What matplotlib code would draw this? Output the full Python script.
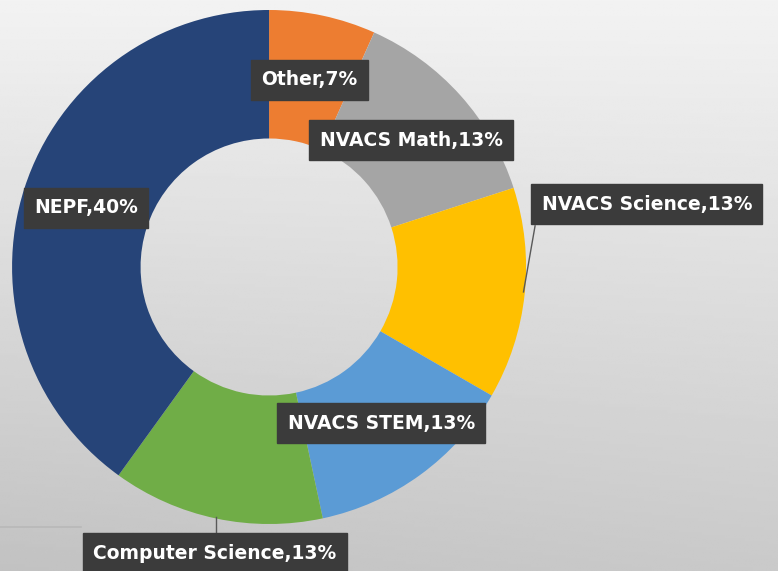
import numpy as np
import matplotlib
matplotlib.use("Agg")
import matplotlib.pyplot as plt

# data
categories = ["Other", "NVACS Math", "NVACS Science", "NVACS STEM", "Computer Science", "NEPF"]
shares = [6.7, 13.3, 13.3, 13.3, 13.3, 40.0]
pct_labels = ["7%", "13%", "13%", "13%", "13%", "40%"]
colors = ["#ED7D31", "#A5A5A5", "#FFC000", "#5B9BD5", "#70AD47", "#264478"]

# label box centres in pie data units (radius 1)
label_pos = [(0.156, 0.728), (0.553, 0.494), (1.47, 0.245),
             (0.436, -0.607), (-0.21, -1.113), (-0.712, 0.23)]

plt.rcParams['font.family'] = ['Liberation Sans Narrow', 'DejaVu Sans']

fig = plt.figure(figsize=(7.78, 5.71), dpi=100)

# background gradient
bg = fig.add_axes([0, 0, 1, 1])
yy, xx = np.mgrid[0:1:200j, 0:1:200j]
shade = 0.95 - 0.16 * yy - 0.03 * (1 - xx) * yy
bg.imshow(shade, cmap="gray", vmin=0, vmax=1, aspect="auto", extent=[0, 1, 0, 1])
bg.axis("off")

ax = fig.add_axes([0.0155, 0.0823, 0.6607, 0.9002])
ax.pie(shares, colors=colors, startangle=90, counterclock=False, radius=1,
       wedgeprops=dict(width=0.5, linewidth=0))
ax.set_xlim(-1, 1)
ax.set_ylim(-1, 1)
ax.set_aspect("equal")
ax.axis("off")

# leader lines
ax.plot([1.035, 0.99], [0.16, -0.097], color="#595959", lw=1, clip_on=False)
ax.plot([-0.206, -0.206], [-0.973, -1.03], color="#595959", lw=1, clip_on=False)
ax.plot([-1.06, -0.73], [-1.012, -1.012], color="#b8b8b8", lw=1.2, clip_on=False)

for cat, pct, (x, y) in zip(categories, pct_labels, label_pos):
    ax.text(x, y, f"{cat},{pct}", ha="center", va="center", color="white",
            fontsize=13.5, fontweight="bold", clip_on=False,
            bbox=dict(boxstyle="square,pad=0.55", fc="#3b3b3b", ec="#3b3b3b"))

fig.savefig("out.png", dpi=100)
